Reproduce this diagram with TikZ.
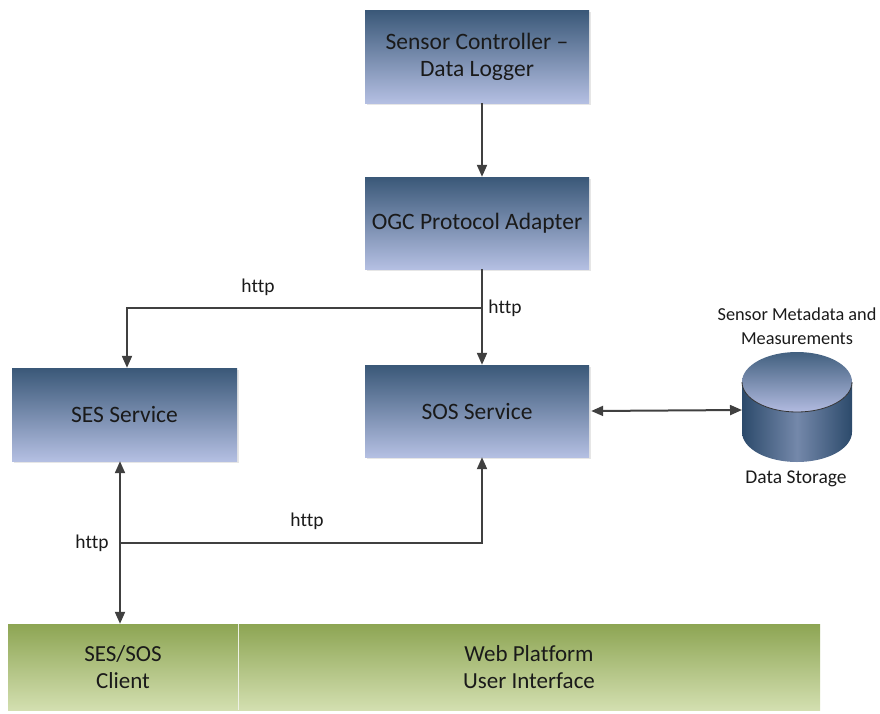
\documentclass[tikz,border=0pt]{standalone}
\usepackage{fontspec}
\setmainfont[Ligatures=NoCommon]{Carlito}
\usetikzlibrary{arrows.meta,shadows}
\definecolor{boxtop}{HTML}{3A5878}
\definecolor{boxbot}{HTML}{B4BFE2}
\definecolor{bandtop}{HTML}{8DA553}
\definecolor{bandbot}{HTML}{D3DFB0}
\definecolor{linec}{HTML}{404040}
\definecolor{txt}{HTML}{1A1A1A}
\definecolor{cyldark}{HTML}{2C4A6B}
\definecolor{cylmid}{HTML}{7488AA}
\definecolor{cyltop}{HTML}{42607F}
\definecolor{cyllight}{HTML}{B2BBE0}
\begin{document}
\begin{tikzpicture}[x=1pt,y=-1pt,
  svcbox/.style={rectangle, inner sep=0pt, align=center,
    top color=boxtop, bottom color=boxbot, text=txt,
    font=\fontsize{23.5}{27}\selectfont,
    drop shadow={shadow xshift=2pt, shadow yshift=-2pt, opacity=0.2, fill=gray}},
  bandbox/.style={rectangle, inner sep=0pt, align=center,
    top color=bandtop, bottom color=bandbot, text=txt,
    font=\fontsize{23}{27}\selectfont},
  link/.style={draw=linec, line width=2pt, -{Triangle[width=10pt,length=12pt]}},
  dlink/.style={draw=linec, line width=2pt, {Triangle[width=10pt,length=12pt]}-{Triangle[width=10pt,length=12pt]}},
  lbl/.style={font=\fontsize{19.5}{22}\selectfont, text=txt},
  dblbl/.style={font=\fontsize{18.3}{24}\selectfont, text=txt, align=center}]
\useasboundingbox (0,0) rectangle (880,713);

% service boxes
\node[svcbox, minimum width=224pt, minimum height=93pt] (sc) at (477,56.5) {Sensor Controller --\\Data Logger};
\node[svcbox, minimum width=224pt, minimum height=92pt] (ogc) at (477,223) {OGC Protocol Adapter};
\node[svcbox, minimum width=224pt, minimum height=92pt] (sos) at (477,411) {SOS Service};
\node[svcbox, minimum width=225pt, minimum height=93pt] (ses) at (124.5,414.5) {SES Service};

% client / web platform band
\node[bandbox, minimum width=230pt, minimum height=86pt] (client) at (123,667) {SES/SOS\\Client};
\node[bandbox, minimum width=582pt, minimum height=86pt] (web) at (529,667) {Web Platform\\User Interface};
\draw[white!85!bandtop, line width=0.8pt] (client.north east) -- (client.south east);

% data storage cylinder
\shade[left color=cyldark, right color=cyldark, middle color=cylmid]
  (742,382) -- (742,432) arc[start angle=180, end angle=0, x radius=55, y radius=30]
  -- (852,382) arc[start angle=0, end angle=180, x radius=55, y radius=30] -- cycle;
\shade[top color=cyltop, bottom color=cyllight] (797,382) ellipse[x radius=55, y radius=30];
\draw[black!80, line width=0.8pt] (742,382) arc[start angle=180, end angle=0, x radius=55, y radius=30];
\coordinate (db) at (742,410);
\node[dblbl] (dbtop) at (797,326) {Sensor Metadata and\\Measurements};
\node[dblbl, font=\fontsize{19.5}{24}\selectfont] (dbname) at (796,479) {Data Storage};

% connectors
\coordinate (ax) at (482,0);
\coordinate (split) at (482,308);
\coordinate (sesin) at (127,308);
\coordinate (cx) at (120,0);
\coordinate (join) at (120,543);

\draw[link] (sc.south -| ax) -- (ogc.north -| ax);
\draw[link] (ogc.south -| ax) -- (sos.north -| ax);
\draw[link] (split) -- (sesin) -- (ses.north -| sesin);
\draw[dlink] (sos.east) ++(2,0) -- (db);
\draw[dlink] (ses.south -| cx) -- (client.north -| cx);
\draw[link] (join) -- (join -| ax) -- (sos.south -| ax);

% labels
\node[lbl] (h1) at (258,287) {http};
\node[lbl] (h2) at (505,308) {http};
\node[lbl] (h3) at (307,521) {http};
\node[lbl] (h4) at (92,543) {http};
\end{tikzpicture}
\end{document}
